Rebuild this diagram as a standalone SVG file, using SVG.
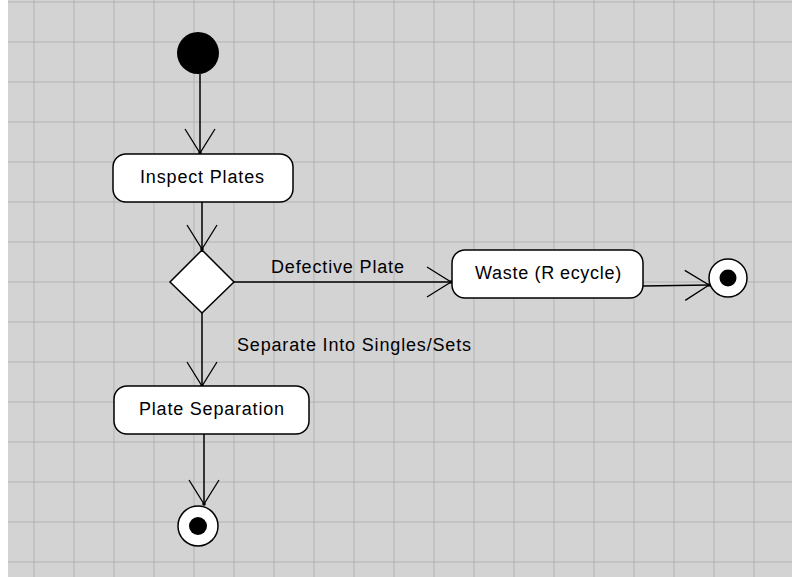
<svg xmlns="http://www.w3.org/2000/svg" width="792" height="577" viewBox="0 0 792 577">
<defs>
<style>
.grid line{stroke:#b3b3b3;stroke-width:1}
.node rect,.node polygon{fill:#fff;stroke:#000;stroke-width:1.5}
.lbl{font-family:"Liberation Sans",Arial,sans-serif;font-size:18px;fill:#000}
.conn{stroke:#000;stroke-width:1.5;fill:none;marker-end:url(#open)}
</style>
<marker id="open" markerUnits="userSpaceOnUse" markerWidth="30" markerHeight="34" refX="26" refY="17" orient="auto" overflow="visible">
<path d="M2 2 L26 17 L2 32" fill="none" stroke="#000" stroke-width="1.3"/>
<circle cx="26" cy="17" r="1.8" fill="#000"/>
</marker>
</defs>
<rect x="0" y="0" width="792" height="577" fill="#fff"/>
<rect x="8" y="0" width="784" height="577" fill="#d3d3d3"/>
<g class="grid">
<line x1="34" y1="0" x2="34" y2="577"/><line x1="74" y1="0" x2="74" y2="577"/><line x1="114" y1="0" x2="114" y2="577"/><line x1="154" y1="0" x2="154" y2="577"/><line x1="194" y1="0" x2="194" y2="577"/><line x1="234" y1="0" x2="234" y2="577"/><line x1="274" y1="0" x2="274" y2="577"/><line x1="314" y1="0" x2="314" y2="577"/><line x1="354" y1="0" x2="354" y2="577"/><line x1="394" y1="0" x2="394" y2="577"/><line x1="434" y1="0" x2="434" y2="577"/><line x1="474" y1="0" x2="474" y2="577"/><line x1="514" y1="0" x2="514" y2="577"/><line x1="554" y1="0" x2="554" y2="577"/><line x1="594" y1="0" x2="594" y2="577"/><line x1="634" y1="0" x2="634" y2="577"/><line x1="674" y1="0" x2="674" y2="577"/><line x1="714" y1="0" x2="714" y2="577"/><line x1="754" y1="0" x2="754" y2="577"/>
<line x1="8" y1="2" x2="792" y2="2"/><line x1="8" y1="42" x2="792" y2="42"/><line x1="8" y1="82" x2="792" y2="82"/><line x1="8" y1="122" x2="792" y2="122"/><line x1="8" y1="162" x2="792" y2="162"/><line x1="8" y1="202" x2="792" y2="202"/><line x1="8" y1="242" x2="792" y2="242"/><line x1="8" y1="282" x2="792" y2="282"/><line x1="8" y1="322" x2="792" y2="322"/><line x1="8" y1="362" x2="792" y2="362"/><line x1="8" y1="402" x2="792" y2="402"/><line x1="8" y1="442" x2="792" y2="442"/><line x1="8" y1="482" x2="792" y2="482"/><line x1="8" y1="522" x2="792" y2="522"/><line x1="8" y1="562" x2="792" y2="562"/>
</g>
<g id="connectors">
<line class="conn" x1="200" y1="74" x2="200" y2="153"/>
<line class="conn" x1="202" y1="202" x2="202" y2="249"/>
<line class="conn" x1="234" y1="282" x2="451" y2="282"/>
<line class="conn" x1="202" y1="313" x2="202" y2="386"/>
<line class="conn" x1="643" y1="286" x2="709" y2="285"/>
<line class="conn" x1="204" y1="434" x2="204" y2="504"/>
<text class="lbl" x="271" y="273" textLength="133" lengthAdjust="spacing">Defective Plate</text>
<text class="lbl" x="237" y="351" textLength="234" lengthAdjust="spacing">Separate Into Singles/Sets</text>
</g>
<g id="start" class="node"><circle cx="198" cy="53" r="21" fill="#000"/></g>
<g id="inspect" class="node">
<rect x="113" y="154" width="180" height="48" rx="13"/>
<text class="lbl" x="140" y="183" textLength="124" lengthAdjust="spacing">Inspect Plates</text>
</g>
<g id="decision" class="node"><polygon points="202,250 234,282 202,313 170,282"/></g>
<g id="waste" class="node">
<rect x="452" y="250" width="191" height="48" rx="13"/>
<text class="lbl" x="475" y="279" letter-spacing="0.7">Waste (R<tspan dx="5">ecycle)</tspan></text>
</g>
<g id="end1" class="node"><circle cx="728" cy="278" r="19" fill="#fff" stroke="#000" stroke-width="1.5"/><circle cx="728" cy="278" r="8.5" fill="#000"/></g>
<g id="separation" class="node">
<rect x="114" y="386" width="195" height="48" rx="13"/>
<text class="lbl" x="139" y="415" textLength="145" lengthAdjust="spacing">Plate Separation</text>
</g>
<g id="end2" class="node"><circle cx="198" cy="526" r="20" fill="#fff" stroke="#000" stroke-width="1.5"/><circle cx="198" cy="526" r="9" fill="#000"/></g>
</svg>
